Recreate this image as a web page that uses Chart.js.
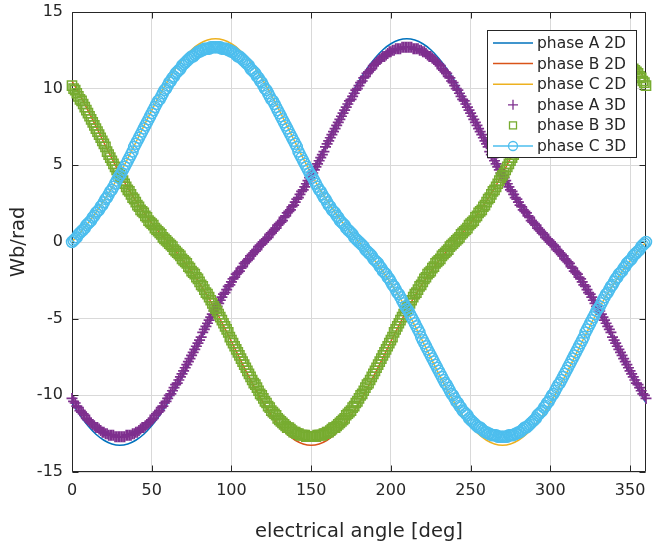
<!DOCTYPE html>
<html>
<head>
<meta charset="utf-8">
<script src="https://cdn.jsdelivr.net/npm/chart.js@4.4.1/dist/chart.umd.min.js"></script>
<style>
  html, body { margin: 0; padding: 0; background: #fff; }
  #wrap { width: 654px; height: 547px; }
</style>
</head>
<body>
<div id="wrap"><canvas id="flux"></canvas></div>
<script>
// tick positions
const xTicks = [0, 50, 100, 150, 200, 250, 300, 350];
const yTicks = [-15, -10, -5, 0, 5, 10, 15];

// sampling of the two data sets (deg between samples)
const step2D = 5;
const step3D = 1;

// 2D results, 0..360 deg every 5 deg
const phaseA2D = [
  -10.50, -11.31, -11.99, -12.54, -12.93, -13.17, -13.25,
  -13.17, -12.93, -12.54, -11.99, -11.31, -10.50, -9.58, -8.59, -7.55, -6.49, -5.45, -4.45, -3.52, -2.68, -1.92, -1.23, -0.60, 0.00,
  0.60, 1.23, 1.92, 2.68, 3.52, 4.45, 5.45, 6.49, 7.55, 8.59, 9.58, 10.50, 11.31, 11.99, 12.54, 12.93, 13.17, 13.25,
  13.17, 12.93, 12.54, 11.99, 11.31, 10.50, 9.58, 8.59, 7.55, 6.49, 5.45, 4.45, 3.52, 2.68, 1.92, 1.23, 0.60, 0.00,
  -0.60, -1.23, -1.92, -2.68, -3.52, -4.45, -5.45, -6.49, -7.55, -8.59, -9.58, -10.50
];
const phaseB2D = [
  10.50, 9.58, 8.59, 7.55, 6.49, 5.45, 4.45, 3.52, 2.68, 1.92, 1.23, 0.60, 0.00,
  -0.60, -1.23, -1.92, -2.68, -3.52, -4.45, -5.45, -6.49, -7.55, -8.59, -9.58, -10.50, -11.31, -11.99, -12.54, -12.93, -13.17, -13.25,
  -13.17, -12.93, -12.54, -11.99, -11.31, -10.50, -9.58, -8.59, -7.55, -6.49, -5.45, -4.45, -3.52, -2.68, -1.92, -1.23, -0.60, 0.00,
  0.60, 1.23, 1.92, 2.68, 3.52, 4.45, 5.45, 6.49, 7.55, 8.59, 9.58, 10.50, 11.31, 11.99, 12.54, 12.93, 13.17, 13.25,
  13.17, 12.93, 12.54, 11.99, 11.31, 10.50
];
const phaseC2D = [
  0.00, 0.60, 1.23, 1.92, 2.68, 3.52, 4.45, 5.45, 6.49, 7.55, 8.59, 9.58, 10.50, 11.31, 11.99, 12.54, 12.93, 13.17, 13.25,
  13.17, 12.93, 12.54, 11.99, 11.31, 10.50, 9.58, 8.59, 7.55, 6.49, 5.45, 4.45, 3.52, 2.68, 1.92, 1.23, 0.60, 0.00,
  -0.60, -1.23, -1.92, -2.68, -3.52, -4.45, -5.45, -6.49, -7.55, -8.59, -9.58, -10.50, -11.31, -11.99, -12.54, -12.93, -13.17, -13.25,
  -13.17, -12.93, -12.54, -11.99, -11.31, -10.50, -9.58, -8.59, -7.55, -6.49, -5.45, -4.45, -3.52, -2.68, -1.92, -1.23, -0.60, 0.00
];

// 3D results, 0..360 deg every 1 deg (one row = 30 deg)
const phaseA3D = [
  -10.2, -10.4, -10.5, -10.7, -10.8, -11.0, -11.1, -11.2, -11.3, -11.5, -11.6, -11.7, -11.8, -11.9, -12.0, -12.1, -12.1, -12.2, -12.3, -12.4, -12.4, -12.5, -12.5, -12.6, -12.6, -12.6, -12.6, -12.7, -12.7, -12.7,
  -12.7, -12.7, -12.7, -12.7, -12.6, -12.6, -12.6, -12.6, -12.5, -12.5, -12.4, -12.4, -12.3, -12.2, -12.1, -12.1, -12.0, -11.9, -11.8, -11.7, -11.6, -11.5, -11.3, -11.2, -11.1, -11.0, -10.8, -10.7, -10.5, -10.4,
  -10.2, -10.0, -9.9, -9.7, -9.5, -9.3, -9.2, -9.0, -8.8, -8.6, -8.4, -8.2, -8.0, -7.8, -7.6, -7.4, -7.2, -7.0, -6.8, -6.6, -6.4, -6.2, -5.9, -5.7, -5.5, -5.3, -5.1, -4.9, -4.7, -4.5,
  -4.35, -4.2, -4.0, -3.8, -3.6, -3.4, -3.3, -3.1, -2.9, -2.8, -2.6, -2.4, -2.3, -2.1, -2.0, -1.9, -1.7, -1.6, -1.4, -1.3, -1.2, -1.1, -0.9, -0.8, -0.7, -0.6, -0.5, -0.3, -0.2, -0.1,
  0.0, 0.1, 0.2, 0.3, 0.5, 0.6, 0.7, 0.8, 0.9, 1.1, 1.2, 1.3, 1.4, 1.6, 1.7, 1.9, 2.0, 2.1, 2.3, 2.4, 2.6, 2.8, 2.9, 3.1, 3.3, 3.4, 3.6, 3.8, 4.0, 4.2,
  4.35, 4.5, 4.7, 4.9, 5.1, 5.3, 5.5, 5.7, 5.9, 6.2, 6.4, 6.6, 6.8, 7.0, 7.2, 7.4, 7.6, 7.8, 8.0, 8.2, 8.4, 8.6, 8.8, 9.0, 9.2, 9.3, 9.5, 9.7, 9.9, 10.0,
  10.2, 10.4, 10.5, 10.7, 10.8, 11.0, 11.1, 11.2, 11.3, 11.5, 11.6, 11.7, 11.8, 11.9, 12.0, 12.1, 12.1, 12.2, 12.3, 12.4, 12.4, 12.5, 12.5, 12.6, 12.6, 12.6, 12.6, 12.7, 12.7, 12.7,
  12.7, 12.7, 12.7, 12.7, 12.6, 12.6, 12.6, 12.6, 12.5, 12.5, 12.4, 12.4, 12.3, 12.2, 12.1, 12.1, 12.0, 11.9, 11.8, 11.7, 11.6, 11.5, 11.3, 11.2, 11.1, 11.0, 10.8, 10.7, 10.5, 10.4,
  10.2, 10.0, 9.9, 9.7, 9.5, 9.3, 9.2, 9.0, 8.8, 8.6, 8.4, 8.2, 8.0, 7.8, 7.6, 7.4, 7.2, 7.0, 6.8, 6.6, 6.4, 6.2, 5.9, 5.7, 5.5, 5.3, 5.1, 4.9, 4.7, 4.5,
  4.35, 4.2, 4.0, 3.8, 3.6, 3.4, 3.3, 3.1, 2.9, 2.8, 2.6, 2.4, 2.3, 2.1, 2.0, 1.9, 1.7, 1.6, 1.4, 1.3, 1.2, 1.1, 0.9, 0.8, 0.7, 0.6, 0.5, 0.3, 0.2, 0.1,
  0.0, -0.1, -0.2, -0.3, -0.5, -0.6, -0.7, -0.8, -0.9, -1.1, -1.2, -1.3, -1.4, -1.6, -1.7, -1.9, -2.0, -2.1, -2.3, -2.4, -2.6, -2.8, -2.9, -3.1, -3.3, -3.4, -3.6, -3.8, -4.0, -4.2,
  -4.35, -4.5, -4.7, -4.9, -5.1, -5.3, -5.5, -5.7, -5.9, -6.2, -6.4, -6.6, -6.8, -7.0, -7.2, -7.4, -7.6, -7.8, -8.0, -8.2, -8.4, -8.6, -8.8, -9.0, -9.2, -9.3, -9.5, -9.7, -9.9, -10.0,
  -10.2
];
const phaseB3D = [
  10.2, 10.0, 9.9, 9.7, 9.5, 9.3, 9.2, 9.0, 8.8, 8.6, 8.4, 8.2, 8.0, 7.8, 7.6, 7.4, 7.2, 7.0, 6.8, 6.6, 6.4, 6.2, 5.9, 5.7, 5.5, 5.3, 5.1, 4.9, 4.7, 4.5,
  4.35, 4.2, 4.0, 3.8, 3.6, 3.4, 3.3, 3.1, 2.9, 2.8, 2.6, 2.4, 2.3, 2.1, 2.0, 1.9, 1.7, 1.6, 1.4, 1.3, 1.2, 1.1, 0.9, 0.8, 0.7, 0.6, 0.5, 0.3, 0.2, 0.1,
  0.0, -0.1, -0.2, -0.3, -0.5, -0.6, -0.7, -0.8, -0.9, -1.1, -1.2, -1.3, -1.4, -1.6, -1.7, -1.9, -2.0, -2.1, -2.3, -2.4, -2.6, -2.8, -2.9, -3.1, -3.3, -3.4, -3.6, -3.8, -4.0, -4.2,
  -4.35, -4.5, -4.7, -4.9, -5.1, -5.3, -5.5, -5.7, -5.9, -6.2, -6.4, -6.6, -6.8, -7.0, -7.2, -7.4, -7.6, -7.8, -8.0, -8.2, -8.4, -8.6, -8.8, -9.0, -9.2, -9.3, -9.5, -9.7, -9.9, -10.0,
  -10.2, -10.4, -10.5, -10.7, -10.8, -11.0, -11.1, -11.2, -11.3, -11.5, -11.6, -11.7, -11.8, -11.9, -12.0, -12.1, -12.1, -12.2, -12.3, -12.4, -12.4, -12.5, -12.5, -12.6, -12.6, -12.6, -12.6, -12.7, -12.7, -12.7,
  -12.7, -12.7, -12.7, -12.7, -12.6, -12.6, -12.6, -12.6, -12.5, -12.5, -12.4, -12.4, -12.3, -12.2, -12.1, -12.1, -12.0, -11.9, -11.8, -11.7, -11.6, -11.5, -11.3, -11.2, -11.1, -11.0, -10.8, -10.7, -10.5, -10.4,
  -10.2, -10.0, -9.9, -9.7, -9.5, -9.3, -9.2, -9.0, -8.8, -8.6, -8.4, -8.2, -8.0, -7.8, -7.6, -7.4, -7.2, -7.0, -6.8, -6.6, -6.4, -6.2, -5.9, -5.7, -5.5, -5.3, -5.1, -4.9, -4.7, -4.5,
  -4.35, -4.2, -4.0, -3.8, -3.6, -3.4, -3.3, -3.1, -2.9, -2.8, -2.6, -2.4, -2.3, -2.1, -2.0, -1.9, -1.7, -1.6, -1.4, -1.3, -1.2, -1.1, -0.9, -0.8, -0.7, -0.6, -0.5, -0.3, -0.2, -0.1,
  0.0, 0.1, 0.2, 0.3, 0.5, 0.6, 0.7, 0.8, 0.9, 1.1, 1.2, 1.3, 1.4, 1.6, 1.7, 1.9, 2.0, 2.1, 2.3, 2.4, 2.6, 2.8, 2.9, 3.1, 3.3, 3.4, 3.6, 3.8, 4.0, 4.2,
  4.35, 4.5, 4.7, 4.9, 5.1, 5.3, 5.5, 5.7, 5.9, 6.2, 6.4, 6.6, 6.8, 7.0, 7.2, 7.4, 7.6, 7.8, 8.0, 8.2, 8.4, 8.6, 8.8, 9.0, 9.2, 9.3, 9.5, 9.7, 9.9, 10.0,
  10.2, 10.4, 10.5, 10.7, 10.8, 11.0, 11.1, 11.2, 11.3, 11.5, 11.6, 11.7, 11.8, 11.9, 12.0, 12.1, 12.1, 12.2, 12.3, 12.4, 12.4, 12.5, 12.5, 12.6, 12.6, 12.6, 12.6, 12.7, 12.7, 12.7,
  12.7, 12.7, 12.7, 12.7, 12.6, 12.6, 12.6, 12.6, 12.5, 12.5, 12.4, 12.4, 12.3, 12.2, 12.1, 12.1, 12.0, 11.9, 11.8, 11.7, 11.6, 11.5, 11.3, 11.2, 11.1, 11.0, 10.8, 10.7, 10.5, 10.4,
  10.2
];
const phaseC3D = [
  0.0, 0.1, 0.2, 0.3, 0.5, 0.6, 0.7, 0.8, 0.9, 1.1, 1.2, 1.3, 1.4, 1.6, 1.7, 1.9, 2.0, 2.1, 2.3, 2.4, 2.6, 2.8, 2.9, 3.1, 3.3, 3.4, 3.6, 3.8, 4.0, 4.2,
  4.35, 4.5, 4.7, 4.9, 5.1, 5.3, 5.5, 5.7, 5.9, 6.2, 6.4, 6.6, 6.8, 7.0, 7.2, 7.4, 7.6, 7.8, 8.0, 8.2, 8.4, 8.6, 8.8, 9.0, 9.2, 9.3, 9.5, 9.7, 9.9, 10.0,
  10.2, 10.4, 10.5, 10.7, 10.8, 11.0, 11.1, 11.2, 11.3, 11.5, 11.6, 11.7, 11.8, 11.9, 12.0, 12.1, 12.1, 12.2, 12.3, 12.4, 12.4, 12.5, 12.5, 12.6, 12.6, 12.6, 12.6, 12.7, 12.7, 12.7,
  12.7, 12.7, 12.7, 12.7, 12.6, 12.6, 12.6, 12.6, 12.5, 12.5, 12.4, 12.4, 12.3, 12.2, 12.1, 12.1, 12.0, 11.9, 11.8, 11.7, 11.6, 11.5, 11.3, 11.2, 11.1, 11.0, 10.8, 10.7, 10.5, 10.4,
  10.2, 10.0, 9.9, 9.7, 9.5, 9.3, 9.2, 9.0, 8.8, 8.6, 8.4, 8.2, 8.0, 7.8, 7.6, 7.4, 7.2, 7.0, 6.8, 6.6, 6.4, 6.2, 5.9, 5.7, 5.5, 5.3, 5.1, 4.9, 4.7, 4.5,
  4.35, 4.2, 4.0, 3.8, 3.6, 3.4, 3.3, 3.1, 2.9, 2.8, 2.6, 2.4, 2.3, 2.1, 2.0, 1.9, 1.7, 1.6, 1.4, 1.3, 1.2, 1.1, 0.9, 0.8, 0.7, 0.6, 0.5, 0.3, 0.2, 0.1,
  0.0, -0.1, -0.2, -0.3, -0.5, -0.6, -0.7, -0.8, -0.9, -1.1, -1.2, -1.3, -1.4, -1.6, -1.7, -1.9, -2.0, -2.1, -2.3, -2.4, -2.6, -2.8, -2.9, -3.1, -3.3, -3.4, -3.6, -3.8, -4.0, -4.2,
  -4.35, -4.5, -4.7, -4.9, -5.1, -5.3, -5.5, -5.7, -5.9, -6.2, -6.4, -6.6, -6.8, -7.0, -7.2, -7.4, -7.6, -7.8, -8.0, -8.2, -8.4, -8.6, -8.8, -9.0, -9.2, -9.3, -9.5, -9.7, -9.9, -10.0,
  -10.2, -10.4, -10.5, -10.7, -10.8, -11.0, -11.1, -11.2, -11.3, -11.5, -11.6, -11.7, -11.8, -11.9, -12.0, -12.1, -12.1, -12.2, -12.3, -12.4, -12.4, -12.5, -12.5, -12.6, -12.6, -12.6, -12.6, -12.7, -12.7, -12.7,
  -12.7, -12.7, -12.7, -12.7, -12.6, -12.6, -12.6, -12.6, -12.5, -12.5, -12.4, -12.4, -12.3, -12.2, -12.1, -12.1, -12.0, -11.9, -11.8, -11.7, -11.6, -11.5, -11.3, -11.2, -11.1, -11.0, -10.8, -10.7, -10.5, -10.4,
  -10.2, -10.0, -9.9, -9.7, -9.5, -9.3, -9.2, -9.0, -8.8, -8.6, -8.4, -8.2, -8.0, -7.8, -7.6, -7.4, -7.2, -7.0, -6.8, -6.6, -6.4, -6.2, -5.9, -5.7, -5.5, -5.3, -5.1, -4.9, -4.7, -4.5,
  -4.35, -4.2, -4.0, -3.8, -3.6, -3.4, -3.3, -3.1, -2.9, -2.8, -2.6, -2.4, -2.3, -2.1, -2.0, -1.9, -1.7, -1.6, -1.4, -1.3, -1.2, -1.1, -0.9, -0.8, -0.7, -0.6, -0.5, -0.3, -0.2, -0.1,
  0.0
];

const FONT = 'DejaVu Sans';
const INK = '#262626';

Chart.defaults.font.family = FONT;
Chart.defaults.color = INK;

const toPoints = (values, step) => values.map((y, i) => ({ x: i * step, y: y }));

function lineSet(label, values, color, order) {
    return {
        label: label,
        data: toPoints(values, step2D),
        borderColor: color,
        backgroundColor: color,
        borderWidth: 1.5,
        pointRadius: 0,
        tension: 0.3,
        fill: false,
        clip: false,
        order: order
    };
}

function markerSet(label, values, color, style, radius, width, order) {
    return {
        label: label,
        data: toPoints(values, step3D),
        showLine: false,
        borderColor: color,
        backgroundColor: 'rgba(0,0,0,0)',
        pointStyle: style,
        pointRadius: radius,
        pointBorderWidth: width,
        pointBorderColor: color,
        pointBackgroundColor: 'rgba(0,0,0,0)',
        clip: false,
        order: order
    };
}

// box round the plot with inward ticks on all sides
const axesBox = {
    id: 'axesBox',
    beforeDatasetsDraw(chart) {
        const { ctx, chartArea: a, scales } = chart;
        const L = Math.round(a.left) + 0.5, R = Math.round(a.right) - 0.5;
        const T = Math.round(a.top) + 0.5, B = Math.round(a.bottom) - 0.5;
        ctx.save();
        ctx.strokeStyle = INK;
        ctx.lineWidth = 1;
        ctx.beginPath();
        ctx.rect(L, T, R - L, B - T);
        xTicks.forEach(v => {
            const px = Math.round(scales.x.getPixelForValue(v)) + 0.5;
            ctx.moveTo(px, B); ctx.lineTo(px, B - 6);
            ctx.moveTo(px, T); ctx.lineTo(px, T + 6);
        });
        yTicks.forEach(v => {
            const py = Math.round(scales.y.getPixelForValue(v)) + 0.5;
            ctx.moveTo(L, py); ctx.lineTo(L + 6, py);
            ctx.moveTo(R, py); ctx.lineTo(R - 6, py);
        });
        ctx.stroke();
        ctx.restore();
    }
};

// legend box in the upper right corner
const legendBox = {
    id: 'legendBox',
    afterDraw(chart) {
        const ctx = chart.ctx;
        const left = 487, top = 30, w = 149, h = 127, rowH = 20.6;
        ctx.save();
        ctx.fillStyle = '#fff';
        ctx.fillRect(left, top, w, h);
        ctx.strokeStyle = INK;
        ctx.lineWidth = 1;
        ctx.strokeRect(left + 0.5, top + 0.5, w, h);
        ctx.font = '15.5px "' + FONT + '"';
        ctx.textBaseline = 'middle';
        chart.data.datasets.forEach((ds, i) => {
            const cy = top + 13 + i * rowH;
            const x0 = left + 6, x1 = left + 46, xm = (x0 + x1) / 2;
            ctx.strokeStyle = ds.borderColor;
            ctx.lineWidth = 1.5;
            if (ds.showLine !== false || ds.pointStyle === 'circle') {
                ctx.beginPath();
                ctx.moveTo(x0, cy); ctx.lineTo(x1, cy);
                ctx.stroke();
            }
            ctx.lineWidth = 1.3;
            if (ds.pointStyle === 'cross') {
                ctx.beginPath();
                ctx.moveTo(xm - 5, cy); ctx.lineTo(xm + 5, cy);
                ctx.moveTo(xm, cy - 5); ctx.lineTo(xm, cy + 5);
                ctx.stroke();
            } else if (ds.pointStyle === 'rect') {
                ctx.strokeRect(xm - 3.5, cy - 3.5, 7, 7);
            } else if (ds.pointStyle === 'circle') {
                ctx.beginPath();
                ctx.arc(xm, cy, 4.5, 0, Math.PI * 2);
                ctx.stroke();
            }
            ctx.fillStyle = INK;
            ctx.fillText(ds.label, left + 50, cy + 1);
        });
        ctx.restore();
    }
};

new Chart(document.getElementById('flux'), {
    type: 'line',
    data: {
        datasets: [
            lineSet('phase A 2D', phaseA2D, '#0072BD', 5),
            lineSet('phase B 2D', phaseB2D, '#D95319', 4),
            lineSet('phase C 2D', phaseC2D, '#EDB120', 3),
            markerSet('phase A 3D', phaseA3D, '#7E2F8E', 'cross', 5.5, 1.7, 2),
            markerSet('phase B 3D', phaseB3D, '#77AC30', 'rect', 6.5, 1.5, 1),
            markerSet('phase C 3D', phaseC3D, '#4DBEEE', 'circle', 5.5, 1.5, 0)
        ]
    },
    options: {
        responsive: true,
        maintainAspectRatio: false,
        animation: false,
        events: [],
        layout: { padding: { top: 12, right: 2, left: 0, bottom: 0 } },
        scales: {
            x: {
                type: 'linear',
                min: 0,
                max: 360,
                afterBuildTicks: s => { s.ticks = xTicks.map(v => ({ value: v })); },
                afterFit: s => { s.height = 75; s.paddingLeft = 0; s.paddingRight = 0; },
                grid: { color: '#d9d9d9', lineWidth: 1, drawTicks: false },
                border: { display: false },
                ticks: { color: INK, font: { size: 16 }, padding: 9, maxRotation: 0, autoSkip: false },
                title: {
                    display: true,
                    text: 'electrical angle [deg]',
                    color: INK,
                    font: { size: 19.5 },
                    padding: { top: 0, bottom: 3 }
                }
            },
            y: {
                type: 'linear',
                min: -15,
                max: 15,
                afterBuildTicks: s => { s.ticks = yTicks.map(v => ({ value: v })); },
                afterFit: s => { s.width = 72; s.paddingTop = 0; s.paddingBottom = 0; },
                grid: { color: '#d9d9d9', lineWidth: 1, drawTicks: false },
                border: { display: false },
                ticks: { color: INK, font: { size: 16 }, padding: 9 },
                title: {
                    display: true,
                    text: 'Wb/rad',
                    color: INK,
                    font: { size: 19.5 },
                    padding: { top: 7, bottom: 0 }
                }
            }
        },
        plugins: {
            legend: { display: false },
            tooltip: { enabled: false }
        }
    },
    plugins: [axesBox, legendBox]
});
</script>
</body>
</html>
